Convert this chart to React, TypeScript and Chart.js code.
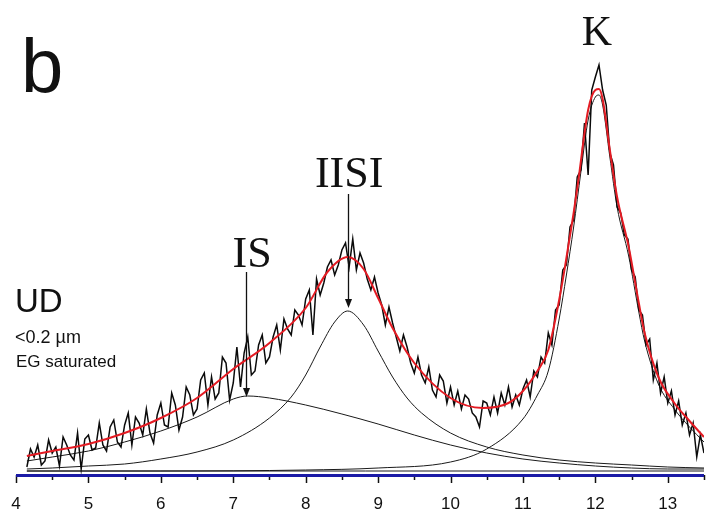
import React, { useEffect, useRef } from "react";
import { Chart, registerables } from "chart.js";

Chart.register(...registerables);

// ---------- axis ----------
const X_MIN = 4;
const X_MAX = 13.5;
const Y_MAX = 460;
const X_TICK_LABELS = ["4", "5", "6", "7", "8", "9", "10", "11", "12", "13"];

// ---------- measured pattern (black, noisy), sampled every 0.05 from 4.15 ----------
const DATA_START = 4.15;
const DATA_STEP = 0.05;
const DATA_Y = [
  8, 26, 18, 30, 10, 14, 35, 22, 28, 9,
  38, 30, 20, 15, 42, 6, 36, 40, 25, 27,
  52, 30, 24, 48, 55, 33, 28, 50, 62, 30,
  58, 52, 40, 66, 42, 32, 60, 72, 50, 48,
  82, 70, 45, 58, 88, 80, 60, 66, 95, 102,
  70, 98, 76, 82, 118, 112, 75, 92, 128, 88,
  122, 138, 100, 104, 130, 140, 112, 118, 138, 150,
  125, 156, 146, 140, 165, 160, 150, 176, 185, 140,
  196, 180, 192, 208, 215, 200, 210, 225, 232, 208,
  236, 205, 222, 212, 196, 185, 198, 182, 170, 150,
  168, 152, 138, 124, 140, 128, 112, 102, 118, 100,
  92, 108, 85, 78, 100, 94, 72, 88, 70, 84,
  66, 80, 76, 62, 58, 48, 74, 72, 60, 78,
  62, 82, 70, 88, 68, 80, 70, 86, 95, 78,
  104, 98, 118, 112, 142, 130, 165, 170, 205, 210,
  248, 255, 298, 305, 352, 300, 385, 398, 410, 385,
  370, 322, 310, 268, 262, 240, 236, 205, 198, 165,
  160, 130, 136, 95, 112, 82, 98, 72, 84, 60,
  74, 50, 62, 40, 52, 18, 40, 22,
];

// ---------- total fit (red) ----------
const FIT_X = [4.15, 4.5, 5, 5.5, 6, 6.5, 7, 7.5, 8, 8.3, 8.58, 8.8, 9, 9.2, 9.5, 10, 10.45, 10.8, 11, 11.2, 11.35, 11.5, 11.58, 11.7, 11.76, 11.9, 12, 12.05, 12.1, 12.2, 12.3, 12.46, 12.6, 12.68, 12.87, 13.09, 13.3, 13.5];
const FIT_Y = [19, 24, 31, 42, 57, 77, 106, 132, 167, 203, 218, 206, 177, 147, 112, 77, 67, 72, 84, 104, 125, 175, 208, 262, 292, 365, 385, 386, 376, 325, 278, 228, 172, 142, 98, 72, 54, 38];

// ---------- component peaks ----------
const IS_X = [4.15, 4.5, 5, 5.5, 6, 6.5, 7, 7.2, 7.5, 8, 8.5, 9, 9.5, 10, 10.5, 11, 11.5, 12, 12.5, 13, 13.5];
const IS_Y = [14, 18, 24, 33, 44, 58, 76, 79, 77, 70, 61, 51, 40, 30, 22, 16, 12, 9, 7, 6, 6];

const IISI_X = [4.15, 4.5, 5, 5.5, 6, 6.5, 7, 7.5, 7.8, 8, 8.2, 8.4, 8.58, 8.8, 9, 9.2, 9.4, 9.6, 10, 10.5, 11, 11.5, 12, 12.5, 13, 13.5];
const IISI_Y = [6, 7, 9, 11, 16, 23, 35, 57, 78, 100, 128, 153, 164, 150, 124, 98, 77, 62, 42, 28, 20, 15, 12, 10, 8, 7];

const K_X = [4.15, 6, 8, 9, 10, 10.5, 11, 11.2, 11.35, 11.5, 11.6, 11.7, 11.8, 11.9, 12, 12.05, 12.1, 12.2, 12.3, 12.46, 12.6, 12.68, 12.87, 13.09, 13.3, 13.5];
const K_Y = [4, 4, 5, 7, 13, 26, 56, 80, 104, 156, 200, 248, 303, 355, 378, 380, 370, 318, 268, 219, 163, 134, 91, 66, 48, 33];

const BASE_X = [4.15, 13.5];
const BASE_Y = [4, 4];

// ---------- peak labels ----------
const PEAK_NAMES = ["K", "IISI", "IS"];
const PEAK_LABEL_X = [12.02, 8.6, 7.26];
const PEAK_LABEL_Y = [430, 288, 208];
const PEAK_ARROW_X = [null, 8.58, 7.18];
const PEAK_ARROW_TOP = [null, 281, 203];
const PEAK_ARROW_TIP = [null, 167, 78];

const pts = (xs: number[], ys: number[]) => xs.map((x, i) => ({ x, y: ys[i] }));
const dataPts = DATA_Y.map((y, i) => ({ x: +(DATA_START + i * DATA_STEP).toFixed(2), y }));

const overlay = {
  id: "overlay",
  afterDraw(chart: any) {
    const { ctx, chartArea, scales } = chart;
    const xs = scales.x;
    const ys = scales.y;
    const bottom = chartArea.bottom;
    ctx.save();

    // tick marks
    ctx.strokeStyle = "#111";
    ctx.lineWidth = 1.5;
    for (let i = 0; i <= Math.round((X_MAX - X_MIN) * 2); i++) {
      const v = X_MIN + i * 0.5;
      const px = Math.round(xs.getPixelForValue(v)) + 0.5;
      const major = i % 2 === 0;
      ctx.beginPath();
      ctx.moveTo(px, bottom);
      ctx.lineTo(px, bottom + (major ? 8 : 5));
      ctx.stroke();
    }

    // blue axis line
    ctx.strokeStyle = "#1a1aa6";
    ctx.lineWidth = 3;
    ctx.beginPath();
    ctx.moveTo(xs.getPixelForValue(X_MIN), bottom + 0.5);
    ctx.lineTo(xs.getPixelForValue(X_MAX), bottom + 0.5);
    ctx.stroke();

    // peak labels and arrows
    ctx.fillStyle = "#111";
    ctx.strokeStyle = "#111";
    ctx.textAlign = "center";
    ctx.textBaseline = "alphabetic";
    PEAK_NAMES.forEach((name, i) => {
      ctx.font = (i === 0 ? "42px" : "44px") + " 'Liberation Serif', serif";
      ctx.fillText(name, xs.getPixelForValue(PEAK_LABEL_X[i]), ys.getPixelForValue(PEAK_LABEL_Y[i]));
      const ax = PEAK_ARROW_X[i];
      if (ax != null) {
        const px = Math.round(xs.getPixelForValue(ax)) + 0.5;
        const top = ys.getPixelForValue(PEAK_ARROW_TOP[i] as number);
        const tip = ys.getPixelForValue(PEAK_ARROW_TIP[i] as number);
        ctx.lineWidth = 1.3;
        ctx.beginPath();
        ctx.moveTo(px, top);
        ctx.lineTo(px, tip - 6);
        ctx.stroke();
        ctx.beginPath();
        ctx.moveTo(px, tip);
        ctx.lineTo(px - 3.5, tip - 9);
        ctx.lineTo(px + 3.5, tip - 9);
        ctx.closePath();
        ctx.fill();
      }
    });

    // panel letter and sample text
    ctx.textAlign = "left";
    ctx.font = "76px 'Liberation Sans', Arial, sans-serif";
    ctx.fillText("b", 21, 92);
    ctx.font = "33px 'Liberation Sans', Arial, sans-serif";
    ctx.fillText("UD", 15, 312);
    ctx.font = "18px 'Liberation Sans', Arial, sans-serif";
    ctx.fillText("<0.2 µm", 15, 343);
    ctx.font = "17px 'Liberation Sans', Arial, sans-serif";
    ctx.fillText("EG saturated", 16, 367);

    ctx.restore();
  },
};

export default function App() {
  const ref = useRef<HTMLCanvasElement | null>(null);

  useEffect(() => {
    if (!ref.current) return;
    const thin = {
      borderColor: "#1a1a1a",
      borderWidth: 1,
      pointRadius: 0,
      cubicInterpolationMode: "monotone" as const,
      fill: false,
      order: 3,
    };
    const chart = new Chart(ref.current, {
      type: "line",
      data: {
        datasets: [
          { ...thin, label: "baseline", data: pts(BASE_X, BASE_Y) },
          { ...thin, label: "IS", data: pts(IS_X, IS_Y) },
          { ...thin, label: "IISI", data: pts(IISI_X, IISI_Y) },
          { ...thin, label: "K", data: pts(K_X, K_Y) },
          {
            label: "measured",
            data: dataPts,
            borderColor: "#0a0a0a",
            borderWidth: 1.5,
            pointRadius: 0,
            tension: 0,
            fill: false,
            order: 2,
          },
          {
            label: "fit",
            data: pts(FIT_X, FIT_Y),
            borderColor: "#e41b23",
            borderWidth: 2,
            pointRadius: 0,
            cubicInterpolationMode: "monotone",
            fill: false,
            order: 1,
          },
        ],
      },
      options: {
        animation: false,
        responsive: false,
        maintainAspectRatio: false,
        layout: { padding: { top: 15, left: 16, right: 2, bottom: 0 } },
        plugins: { legend: { display: false }, tooltip: { enabled: false } },
        scales: {
          x: {
            type: "linear",
            min: X_MIN,
            max: X_MAX,
            grid: { display: false },
            border: { display: false },
            afterFit: (s: any) => {
              s.height = 39;
            },
            ticks: {
              stepSize: 1,
              includeBounds: false,
              autoSkip: false,
              maxRotation: 0,
              padding: 11,
              color: "#111",
              font: { family: "'Liberation Sans', Arial, sans-serif", size: 17 },
              callback: (v: any) => {
                const idx = X_TICK_LABELS.indexOf(String(v));
                return idx >= 0 ? X_TICK_LABELS[idx] : "";
              },
            },
          },
          y: {
            type: "linear",
            min: 0,
            max: Y_MAX,
            display: false,
          },
        },
      },
      plugins: [overlay],
    });
    return () => chart.destroy();
  }, []);

  return (
    <div style={{ position: "fixed", left: 0, top: 0, width: 706, height: 514, background: "#fff" }}>
      <canvas ref={ref} width={706} height={514} style={{ display: "block" }} />
    </div>
  );
}
